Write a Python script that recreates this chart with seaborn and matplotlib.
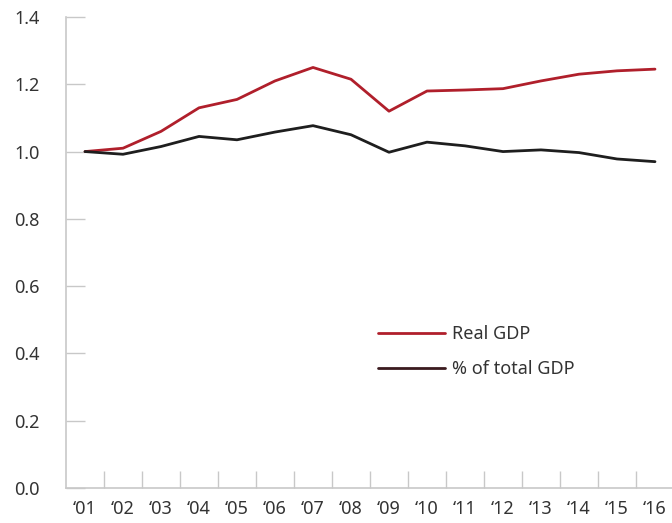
import pandas as pd
import matplotlib
matplotlib.use("Agg")
import matplotlib.pyplot as plt
import seaborn as sns

years = ["\u201801", "\u201802", "\u201803", "\u201804", "\u201805", "\u201806", "\u201807", "\u201808",
         "\u201809", "\u201810", "\u201811", "\u201812", "\u201813", "\u201814", "\u201815", "\u201816"]
real_gdp = [1.0, 1.01, 1.06, 1.13, 1.155, 1.21, 1.25, 1.215,
            1.12, 1.18, 1.183, 1.187, 1.21, 1.23, 1.24, 1.245]
pct_total_gdp = [1.0, 0.992, 1.015, 1.045, 1.035, 1.058, 1.077, 1.05,
                 0.998, 1.028, 1.017, 1.0, 1.005, 0.997, 0.978, 0.97]
series_names = ["Real GDP", "% of total GDP"]
y_ticks = [0.0, 0.2, 0.4, 0.6, 0.8, 1.0, 1.2, 1.4]

red = "#b01f2b"
black = "#1e1e1e"
axis_grey = "#c8c8c8"
text_col = "#333333"

df = pd.DataFrame({
    "x": list(range(len(years))) * 2,
    "value": real_gdp + pct_total_gdp,
    "series": [series_names[0]] * len(years) + [series_names[1]] * len(years),
})

sns.set_style("white")
plt.rcParams["font.family"] = ["Noto Sans", "DejaVu Sans"]

fig = plt.figure(figsize=(6.72, 5.23), dpi=100)
ax = fig.add_axes([66 / 672, 35 / 523, 608 / 672, 471 / 523])

sns.lineplot(data=df, x="x", y="value", hue="series", palette=[red, black],
             linewidth=2, ax=ax, legend=True)

ax.set_xlim(-0.5, 15.5)
ax.set_ylim(0, 1.4)
ax.set_xlabel("")
ax.set_ylabel("")

# y ticks point inward from the left spine
ax.set_yticks(y_ticks)
ax.set_yticklabels([f"{v:.1f}" for v in y_ticks])
ax.tick_params(axis="y", direction="in", length=14, width=1, color=axis_grey,
               labelsize=13, labelcolor=text_col, pad=19, left=True)

# x ticks sit on the category boundaries, labels at category centres
ax.set_xticks([i + 0.5 for i in range(len(years) - 1)])
ax.set_xticklabels([])
ax.set_xticks(range(len(years)), minor=True)
ax.set_xticklabels(years, minor=True)
ax.tick_params(axis="x", which="major", direction="in", length=12, width=1,
               color=axis_grey, bottom=True)
ax.tick_params(axis="x", which="minor", length=0, labelsize=13,
               labelcolor=text_col, pad=9)

for side in ["top", "right"]:
    ax.spines[side].set_visible(False)
for side in ["left", "bottom"]:
    ax.spines[side].set_color(axis_grey)
    ax.spines[side].set_linewidth(1.2)

leg = ax.legend(loc="upper left", bbox_to_anchor=(362 / 672, 1 - 309 / 523),
                bbox_transform=fig.transFigure, frameon=False, fontsize=13,
                handlelength=3.7, labelspacing=0.95, handletextpad=0.4)
for t in leg.get_texts():
    t.set_color(text_col)
leg.get_lines()[1].set_color("#3a1a1e")

fig.savefig("out.png", dpi=100)
